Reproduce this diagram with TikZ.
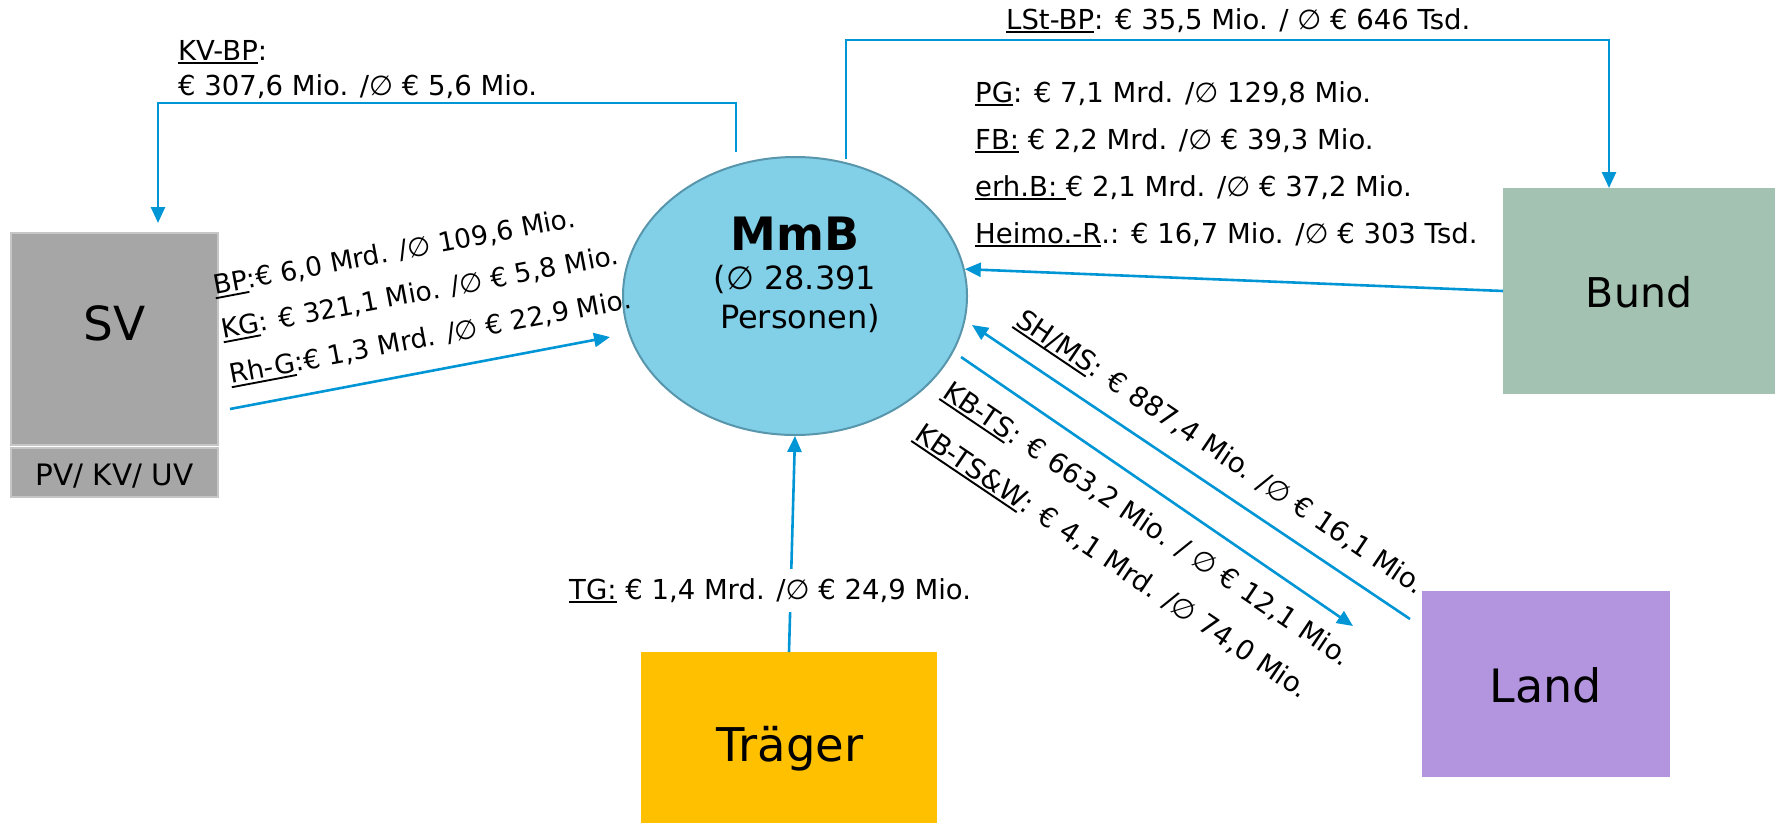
\documentclass[tikz,border=0pt]{standalone}
\usepackage{fontspec}
\setmainfont{DejaVu Sans}
\usetikzlibrary{arrows.meta,shapes.geometric,calc}
\definecolor{arrc}{RGB}{0,150,214}
\definecolor{svfill}{RGB}{166,166,166}
\definecolor{svline}{RGB}{198,198,198}
\definecolor{mmbfill}{RGB}{130,207,232}
\definecolor{mmbline}{RGB}{88,150,172}
\definecolor{bundfill}{RGB}{163,194,177}
\definecolor{landfill}{RGB}{179,148,222}
\definecolor{tragfill}{RGB}{255,192,0}
\newcommand{\uln}[1]{\leavevmode\setbox0=\hbox{#1}\rlap{\rule[-0.16em]{\wd0}{0.07em}}\box0\relax}
\begin{document}
\begin{tikzpicture}[x=1bp,y=-1bp,
  arr/.style={draw=arrc, line width=2.6bp, -{Triangle[length=16bp,width=14bp]}},
  lbl/.style={font=\fontsize{27.5bp}{33bp}\selectfont, inner sep=0pt},
  svlbl/.style={font=\fontsize{26.5bp}{32bp}\selectfont, inner sep=0pt, anchor=base west, rotate=10.7},
  box/.style={rectangle, inner sep=0pt, outer sep=0pt},
  bigtxt/.style={inner sep=0pt, anchor=base}]

\useasboundingbox (0,0) rectangle (1775,823);

% boxes
\node[box, fill=svfill, draw=svline, line width=2.5bp, minimum width=207bp, minimum height=212bp] (sv) at (114.5,339) {};
\node[box, fill=svfill, draw=svline, line width=2.5bp, minimum width=207bp, minimum height=49bp] (svsub) at (114.5,472.5) {};
\node[ellipse, fill=mmbfill, draw=mmbline, line width=2bp, minimum width=344bp, minimum height=278bp, inner sep=0pt] (mmb) at (795,296) {};
\node[box, fill=bundfill, minimum width=272bp, minimum height=206bp] (bund) at (1639,291) {};
\node[box, fill=landfill, minimum width=248bp, minimum height=186bp] (land) at (1546,684) {};
\node[box, fill=tragfill, minimum width=296bp, minimum height=180bp] (trag) at (789,742) {};

% box texts
\node[bigtxt, font=\fontsize{47bp}{56bp}\selectfont] (svt) at (114.5,340) {SV};
\node[bigtxt, font=\fontsize{29.5bp}{35bp}\selectfont] (svst) at (114.5,485) {PV/ KV/ UV};
\node[bigtxt, font=\fontsize{41bp}{49bp}\selectfont] (bundt) at (1639,307) {Bund};
\node[bigtxt, font=\fontsize{46bp}{55bp}\selectfont] (landt) at (1546,702) {Land};
\node[bigtxt, font=\fontsize{46.5bp}{55bp}\selectfont] (tragt) at (790,761) {Träger};
\node[bigtxt, font={\fontsize{46bp}{55bp}\selectfont\bfseries}] (mmbt) at (795,250) {MmB};
\node[bigtxt, font=\fontsize{32bp}{38bp}\selectfont] (mmbn) at (795,289) {(∅ 28.391};
\node[bigtxt, font=\fontsize{32bp}{38bp}\selectfont] (mmbp) at (800,328) {Personen)};

% connectors
\draw[arr] ([xshift=-59bp,yshift=4bp]mmb.north) -- ++(0,-49) -| ([xshift=43.5bp,yshift=10bp]sv.north);
\draw[arr] ([xshift=51bp,yshift=-3bp]mmb.north) -- ++(0,-119) -| ([xshift=-30bp]bund.north);
\draw[arr] ([xshift=12bp,yshift=-70bp]sv.east) -- ([xshift=-12bp,yshift=-41bp]mmb.west);
\draw[arr] (bund.west) -- (mmb.9);
\draw[arr] ([xshift=-12bp,yshift=-28bp]land.north west) -- ([xshift=4bp,yshift=-29bp]mmb.east);
\draw[arr] ([xshift=-7bp,yshift=-61bp]mmb.east) -- ([xshift=-69bp,yshift=-35bp]land.north west);
\draw[arr] (trag.north) -- (mmb.south);

% labels
\node[svlbl] (bp) at (215,295) {\uln{BP}:€ 6,0 Mrd. /∅ 109,6 Mio.};
\node[svlbl] (kg) at (223,339) {\uln{KG}: € 321,1 Mio. /∅ € 5,8 Mio.};
\node[svlbl] (rhg) at (231,384) {\uln{Rh-G}:€ 1,3 Mrd. /∅ € 22,9 Mio.};
\node[lbl, fill=white, inner xsep=2bp, inner ysep=9bp, anchor=base west] (tg) at (567,599) {\uln{TG:} € 1,4 Mrd. /∅ € 24,9 Mio.};
\node[lbl, anchor=base west] (kvbp1) at (178,60) {\uln{KV-BP}:};
\node[lbl, anchor=base west] (kvbp2) at (178,95) {€ 307,6 Mio. /∅ € 5,6 Mio.};
\node[lbl, anchor=base west] (lst) at (1006,29) {\uln{LSt-BP}: € 35,5 Mio. / ∅ € 646 Tsd.};
\node[lbl, anchor=base west] (pg) at (975,102) {\uln{PG}: € 7,1 Mrd. /∅ 129,8 Mio.};
\node[lbl, anchor=base west] (fb) at (975,149) {\uln{FB:} € 2,2 Mrd. /∅ € 39,3 Mio.};
\node[lbl, anchor=base west] (erh) at (975,196) {\uln{erh.B: }€ 2,1 Mrd. /∅ € 37,2 Mio.};
\node[lbl, anchor=base west] (heimo) at (975,243) {\uln{Heimo.-R}.: € 16,7 Mio. /∅ € 303 Tsd.};
\node[lbl, anchor=base west, rotate=-34] (shms) at (1014,324) {\uln{SH/MS}: € 887,4 Mio. /∅ € 16,1 Mio.};
\node[lbl, anchor=base west, rotate=-34] (kbts) at (941,396) {\uln{KB-TS}: € 663,2 Mio. / ∅ € 12,1 Mio.};
\node[lbl, anchor=base west, rotate=-34] (kbtsw) at (913,438) {\uln{KB-TS\&W}: € 4,1 Mrd. /∅ 74,0 Mio.};
\end{tikzpicture}
\end{document}
